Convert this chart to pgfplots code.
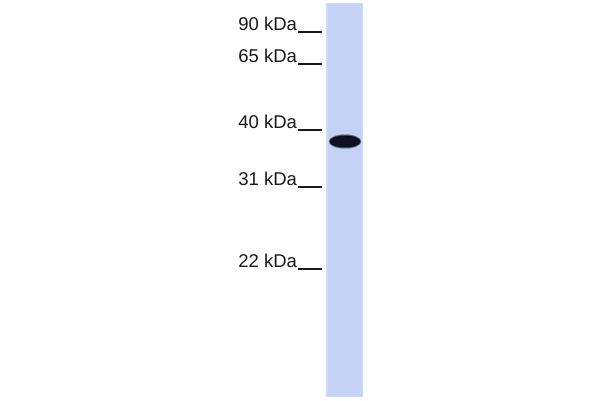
\documentclass[border=0pt]{standalone}
\usepackage{fontspec}
\setmainfont{Liberation Sans}
\usepackage{pgfplots}
\pgfplotsset{compat=1.18}
\definecolor{lane}{RGB}{196,211,245}
\definecolor{laneedge}{RGB}{206,218,247}
\definecolor{band}{RGB}{12,18,34}
\definecolor{labelc}{RGB}{25,25,25}
\begin{document}
\begin{tikzpicture}
\begin{axis}[width=600bp,height=400bp,scale only axis,
  xmin=0,xmax=600,ymin=0,ymax=400,y dir=reverse,
  hide axis, clip=false]
\path[fill=white] (axis cs:0,0) rectangle (axis cs:600,400);
% lane
\addplot[fill=laneedge,draw=none] coordinates {(326,3) (362.5,3) (362.5,396.5) (326,396.5)} --cycle;
\addplot[fill=lane,draw=none] coordinates {(327.5,4) (361.5,4) (361.5,395.5) (327.5,395.5)} --cycle;
% band
\addplot[only marks, mark=*, mark size=7bp, mark options={xscale=2.3, fill=band, draw=none, opacity=0.3}] coordinates {(345,141.5)};
\addplot[only marks, mark=*, mark size=6.3bp, mark options={xscale=2.45, fill=band, draw=none, opacity=0.5}] coordinates {(345,141.5)};
\addplot[only marks, mark=*, mark size=5.5bp, mark options={xscale=2.7, fill=band, draw=none}] coordinates {(345,141.5)};
% marker underlines
\addplot[labelc, line width=1.8bp] coordinates {(298,32) (322,32)};
\addplot[labelc, line width=1.8bp] coordinates {(298,64) (322,64)};
\addplot[labelc, line width=1.8bp] coordinates {(298,130) (322,130)};
\addplot[labelc, line width=1.8bp] coordinates {(298,187) (322,187)};
\addplot[labelc, line width=1.8bp] coordinates {(298,269) (322,269)};
% labels
\addplot[draw=none, nodes near coords, point meta=explicit symbolic,
  every node near coord/.append style={anchor=base east, inner sep=0pt, outer sep=0pt, text=labelc, font=\fontsize{18.5bp}{22bp}\selectfont}]
  table[col sep=comma, meta=label] {
x,y,label
297,30.5,90 kDa
297,62.5,65 kDa
297,128,40 kDa
297,185.3,31 kDa
297,267.3,22 kDa
};
\end{axis}
\end{tikzpicture}
\end{document}
